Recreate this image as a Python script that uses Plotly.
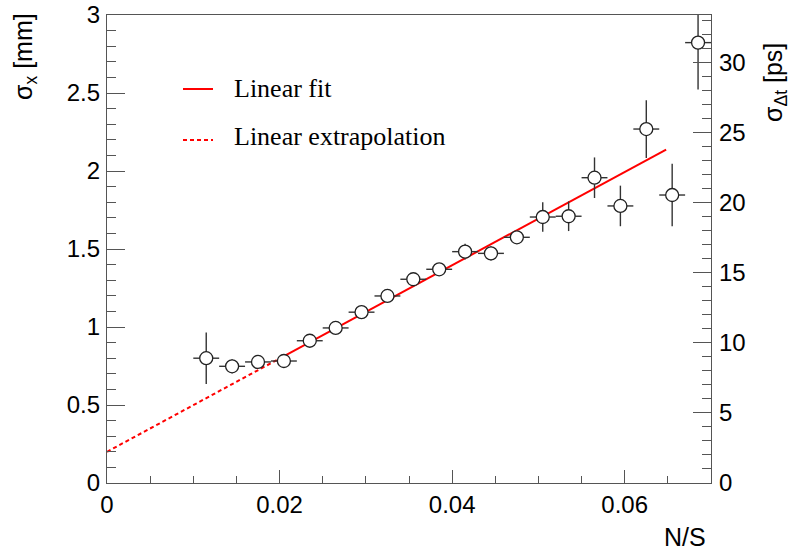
import plotly.graph_objects as go

# ---- data ----
ns = [0.0115, 0.0145, 0.0175, 0.0205, 0.0235, 0.0265, 0.0295, 0.0325, 0.0355, 0.0385,
      0.0415, 0.0445, 0.0475, 0.0505, 0.0535, 0.0565, 0.0595, 0.0625, 0.0655, 0.0685]
sigma_x = [0.800, 0.748, 0.776, 0.782, 0.912, 0.994, 1.095, 1.199, 1.306, 1.370,
           1.483, 1.472, 1.575, 1.705, 1.710, 1.957, 1.776, 2.269, 1.846, 2.823]
sigma_err = [0.165, 0.045, 0.025, 0.020, 0.025, 0.025, 0.025, 0.025, 0.025, 0.035,
             0.050, 0.045, 0.040, 0.095, 0.095, 0.130, 0.130, 0.185, 0.200, 0.300]
ns_err = [0.0015] * len(ns)

fit_intercept = 0.20
fit_slope = 29.9
fit_range = [0.0202, 0.0648]
extrap_range = [0.0, 0.0202]

x_range = [0, 0.07]
y_range = [0, 3]
y2_range = [0, 33.4]

fit_y = [fit_intercept + fit_slope * v for v in fit_range]
extrap_y = [fit_intercept + fit_slope * v for v in extrap_range]

W, H = 790, 554
L, R, T, B = 107, 79, 15, 71
pw, ph = W - L - R, H - T - B

def px(xp):
    return (xp - L) / pw

def py(yp):
    return (H - B - yp) / ph

AX = "#555555"
FONT = "Liberation Sans, Arial, sans-serif"

fig = go.Figure()

fig.add_trace(go.Scatter(
    x=extrap_range, y=extrap_y, mode="lines",
    line=dict(color="#ff0000", width=2, dash="4px,3px"),
    showlegend=False, hoverinfo="skip"))
fig.add_trace(go.Scatter(
    x=fit_range, y=fit_y, mode="lines",
    line=dict(color="#ff0000", width=2),
    showlegend=False, hoverinfo="skip"))
fig.add_trace(go.Scatter(
    x=ns, y=sigma_x, mode="markers",
    error_x=dict(type="data", array=ns_err, color="#333333", thickness=1.4, width=0),
    error_y=dict(type="data", array=sigma_err, color="#333333", thickness=1.4, width=0),
    marker=dict(symbol="circle", size=13, color="white", line=dict(color="#222222", width=1.3)),
    showlegend=False))
fig.add_trace(go.Scatter(x=[], y=[], yaxis="y2", showlegend=False, hoverinfo="skip"))

fig.update_layout(
    width=W, height=H,
    margin=dict(l=L, r=R, t=T, b=B, pad=0, autoexpand=False),
    paper_bgcolor="white", plot_bgcolor="white",
    font=dict(family=FONT, size=24, color="black"),
    xaxis=dict(range=x_range, showgrid=False, zeroline=False, automargin=False,
               showline=True, linecolor=AX, linewidth=1.3, mirror=True,
               ticks="inside", ticklen=13, tickwidth=1.2, tickcolor=AX,
               tick0=0, dtick=0.02, tickformat=".2~f",
               minor=dict(dtick=0.005, ticks="inside", ticklen=7, tickwidth=1.2, tickcolor=AX),
               tickfont=dict(size=24, family=FONT), ticklabelstandoff=0),
    yaxis=dict(range=y_range, showgrid=False, zeroline=False, automargin=False,
               showline=True, linecolor=AX, linewidth=1.3,
               ticks="inside", ticklen=18, tickwidth=1.2, tickcolor=AX,
               tick0=0, dtick=0.5,
               minor=dict(dtick=0.1, ticks="inside", ticklen=9, tickwidth=1.2, tickcolor=AX),
               tickfont=dict(size=24, family=FONT), ticklabelstandoff=1),
    yaxis2=dict(range=y2_range, overlaying="y", side="right", anchor="x", automargin=False,
                showgrid=False, zeroline=False,
                showline=True, linecolor=AX, linewidth=1.3,
                ticks="inside", ticklen=18, tickwidth=1.2, tickcolor=AX,
                tick0=0, dtick=5,
                minor=dict(dtick=1, ticks="inside", ticklen=9, tickwidth=1.2, tickcolor=AX),
                tickfont=dict(size=24, family=FONT), ticklabelstandoff=2),
)

ann = [
    dict(text="σ<sub>x</sub> [mm]", x=px(25), y=py(57), textangle=-90,
         font=dict(size=25, family=FONT)),
    dict(text="σ<sub>Δt</sub> [ps]", x=px(775), y=py(83), textangle=-90,
         font=dict(size=25, family=FONT)),
    dict(text="N/S", x=px(708), y=py(537), xanchor="right",
         font=dict(size=25, family=FONT)),
    dict(text="Linear fit", x=px(232), y=py(88), xanchor="left",
         font=dict(size=26, family="Liberation Serif, Times New Roman, serif")),
    dict(text="Linear extrapolation", x=px(232), y=py(136), xanchor="left",
         font=dict(size=26, family="Liberation Serif, Times New Roman, serif")),
]
for a in ann:
    a.setdefault("xanchor", "center")
    a.setdefault("yanchor", "middle")
    fig.add_annotation(xref="paper", yref="paper", showarrow=False, **a)

fig.add_shape(type="line", xref="paper", yref="paper",
              x0=px(183), x1=px(213), y0=py(89), y1=py(89),
              line=dict(color="#ff0000", width=2))
fig.add_shape(type="line", xref="paper", yref="paper",
              x0=px(183), x1=px(213), y0=py(140), y1=py(140),
              line=dict(color="#ff0000", width=2, dash="4px,3px"))

fig.write_html("out.html")
